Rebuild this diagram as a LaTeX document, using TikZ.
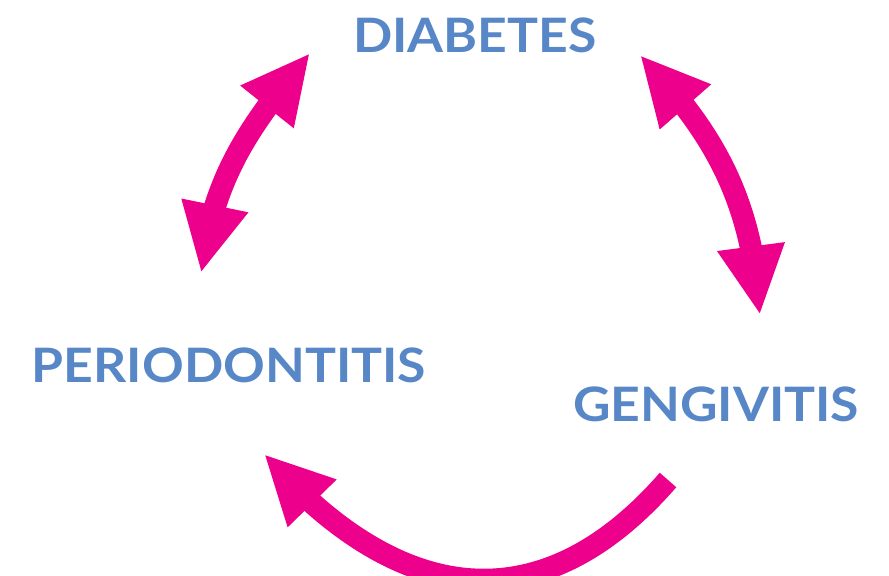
\documentclass[tikz,border=0pt]{standalone}
\usepackage{fontspec}
\setmainfont{Lato}[FakeStretch=1.09]
\usepackage{xcolor}
\usetikzlibrary{arrows.meta}
\usetikzlibrary{bending}

\definecolor{cycpink}{RGB}{236,0,140}
\definecolor{cycblue}{RGB}{88,135,199}

\tikzset{
    lbl/.style={font=\fontsize{27}{30}\selectfont\bfseries, text=cycblue, inner sep=0pt, anchor=base},
    cyc/.style={draw=cycpink, line width=0.44cm, -{Triangle[length=1.38cm, width=1.26cm, flex]}},
    dcyc/.style={cyc, {Triangle[length=1.38cm, width=1.26cm, flex]}-{Triangle[length=1.38cm, width=1.26cm, flex]}}
}

\begin{document}
\begin{tikzpicture}
        \useasboundingbox (0,0) rectangle (17.78,11.52);

        \node[lbl] (dia) at (9.5,10.46) {DIABETES};
        \node[lbl] (perio) at (4.58,3.86) {PERIODONTITIS};
        \node[lbl] (geng) at (14.32,3.08) {GENGIVITIS};

        % arrow ends
        \coordinate (dl) at (6.20,10.46);
        \coordinate (pu) at (4.02,6.06);
        \coordinate (dr) at (12.80,10.42);
        \coordinate (gu) at (15.20,5.22);
        \coordinate (gb) at (13.36,1.92);
        \coordinate (pb) at (5.28,2.44);

        \draw[dcyc] (dl) to[out=230,in=83] (pu);
        \draw[dcyc] (dr) to[out=314,in=94] (gu);
        \draw[cyc] (gb) to[out=229,in=311,looseness=1.25] (pb);
    \end{tikzpicture}
\end{document}
